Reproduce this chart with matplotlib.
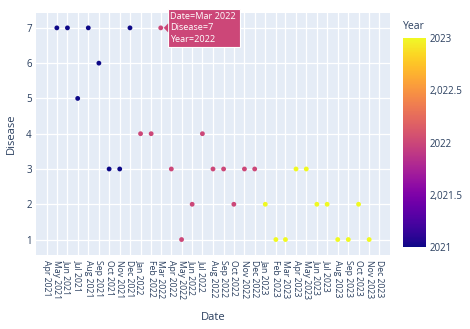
import matplotlib
matplotlib.use("Agg")
import matplotlib.pyplot as plt
import matplotlib.dates as mdates
import matplotlib.transforms as mtransforms
from matplotlib.patches import Rectangle, Polygon
from matplotlib.ticker import FuncFormatter
import pandas as pd

# monthly disease codes, one value per month
dates_2021 = ["2021-05", "2021-06", "2021-07", "2021-08", "2021-09", "2021-10", "2021-11", "2021-12"]
disease_2021 = [7, 7, 5, 7, 6, 3, 3, 7]

dates_2022 = ["2022-01", "2022-02", "2022-03", "2022-04", "2022-05", "2022-06",
              "2022-07", "2022-08", "2022-09", "2022-10", "2022-11", "2022-12"]
disease_2022 = [4, 4, 7, 3, 1, 2, 4, 3, 3, 2, 3, 3]

dates_2023 = ["2023-01", "2023-02", "2023-03", "2023-04", "2023-05", "2023-06",
              "2023-07", "2023-08", "2023-09", "2023-10", "2023-11"]
disease_2023 = [2, 1, 1, 3, 3, 2, 2, 1, 1, 2, 1]

xtick_first, xtick_last = "2021-04", "2023-12"
yticks = [1, 2, 3, 4, 5, 6, 7]
cbar_ticks = [2021, 2021.5, 2022, 2022.5, 2023]
hover_index = 10  # Mar 2022

TEXT = "#2a3f5f"
BG = "#E5ECF6"

plt.rcParams["font.family"] = ["Open Sans", "DejaVu Sans"]

df = pd.DataFrame({
    "Date": pd.to_datetime(dates_2021 + dates_2022 + dates_2023),
    "Disease": disease_2021 + disease_2022 + disease_2023,
})
df["Year"] = df["Date"].dt.year

fig = plt.figure(figsize=(4.70, 3.29), dpi=100)
ax = fig.add_axes([0.0766, 0.2258, 0.7532, 0.7356])
ax.set_facecolor(BG)

sc = ax.scatter(mdates.date2num(df["Date"]), df["Disease"], c=df["Year"],
                cmap="plasma", vmin=2021, vmax=2023, s=12, linewidths=0, zorder=3)

# padding on both ends of the date range
pad = pd.Timedelta(days=61)
ax.set_xlim(mdates.date2num(df["Date"].min() - pad), mdates.date2num(df["Date"].max() + pad))
ax.set_ylim(0.57, 7.43)

months = pd.date_range(xtick_first, xtick_last, freq="MS")
ax.set_xticks(mdates.date2num(months))
ax.set_xticklabels([f"{m:%b %Y}" for m in months], rotation=-90, ha="center", va="top")
ax.set_yticks(yticks)

ax.grid(True, color="white", linewidth=0.9)
ax.set_axisbelow(True)
for s in ax.spines.values():
    s.set_visible(False)
ax.tick_params(axis="both", length=0, colors=TEXT)
ax.tick_params(axis="x", pad=4, labelsize=6.2)
ax.tick_params(axis="y", pad=3, labelsize=7)

ax.set_xlabel("Date", color=TEXT, fontsize=8)
ax.set_ylabel("Disease", color=TEXT, fontsize=8)
ax.xaxis.set_label_coords(0.5, -0.235)
ax.yaxis.set_label_coords(-0.055, 0.5)

# colorbar for year
cax = fig.add_axes([0.8581, 0.2483, 0.0477, 0.6371])
cbar = fig.colorbar(sc, cax=cax, ticks=cbar_ticks)
cbar.outline.set_visible(False)
cbar.ax.tick_params(length=0, colors=TEXT, labelsize=7, pad=3)
cbar.ax.yaxis.set_major_formatter(
    FuncFormatter(lambda v, _: f"{int(v)}" if float(v).is_integer() else f"{v:,.1f}"))
fig.text(0.8575, 0.918, "Year", color=TEXT, fontsize=7.5, ha="left", va="center")

# hover label on one point
row = df.iloc[hover_index]
hx = mdates.date2num(row["Date"])
hy = row["Disease"]
hcolor = sc.cmap(sc.norm(row["Year"]))
trans = fig.dpi_scale_trans + mtransforms.ScaledTranslation(hx, hy, ax.transData)
box = Rectangle((0.07, -0.187), 0.72, 0.374, transform=trans, facecolor=hcolor,
                edgecolor="white", linewidth=0.8, clip_on=False, zorder=5)
tri = Polygon([(0.03, 0.0), (0.074, 0.045), (0.074, -0.045)], closed=True, transform=trans,
              facecolor=hcolor, edgecolor="none", clip_on=False, zorder=6)
ax.add_patch(box)
ax.add_patch(tri)
hover_text = f"Date={row['Date']:%b %Y}\nDisease={row['Disease']}\nYear={row['Year']}"
ax.text(0.097, 0.0, hover_text, transform=trans, color="white", fontsize=6.6,
        ha="left", va="center", linespacing=1.35, zorder=7, clip_on=False)

fig.savefig("out.png", dpi=100)
